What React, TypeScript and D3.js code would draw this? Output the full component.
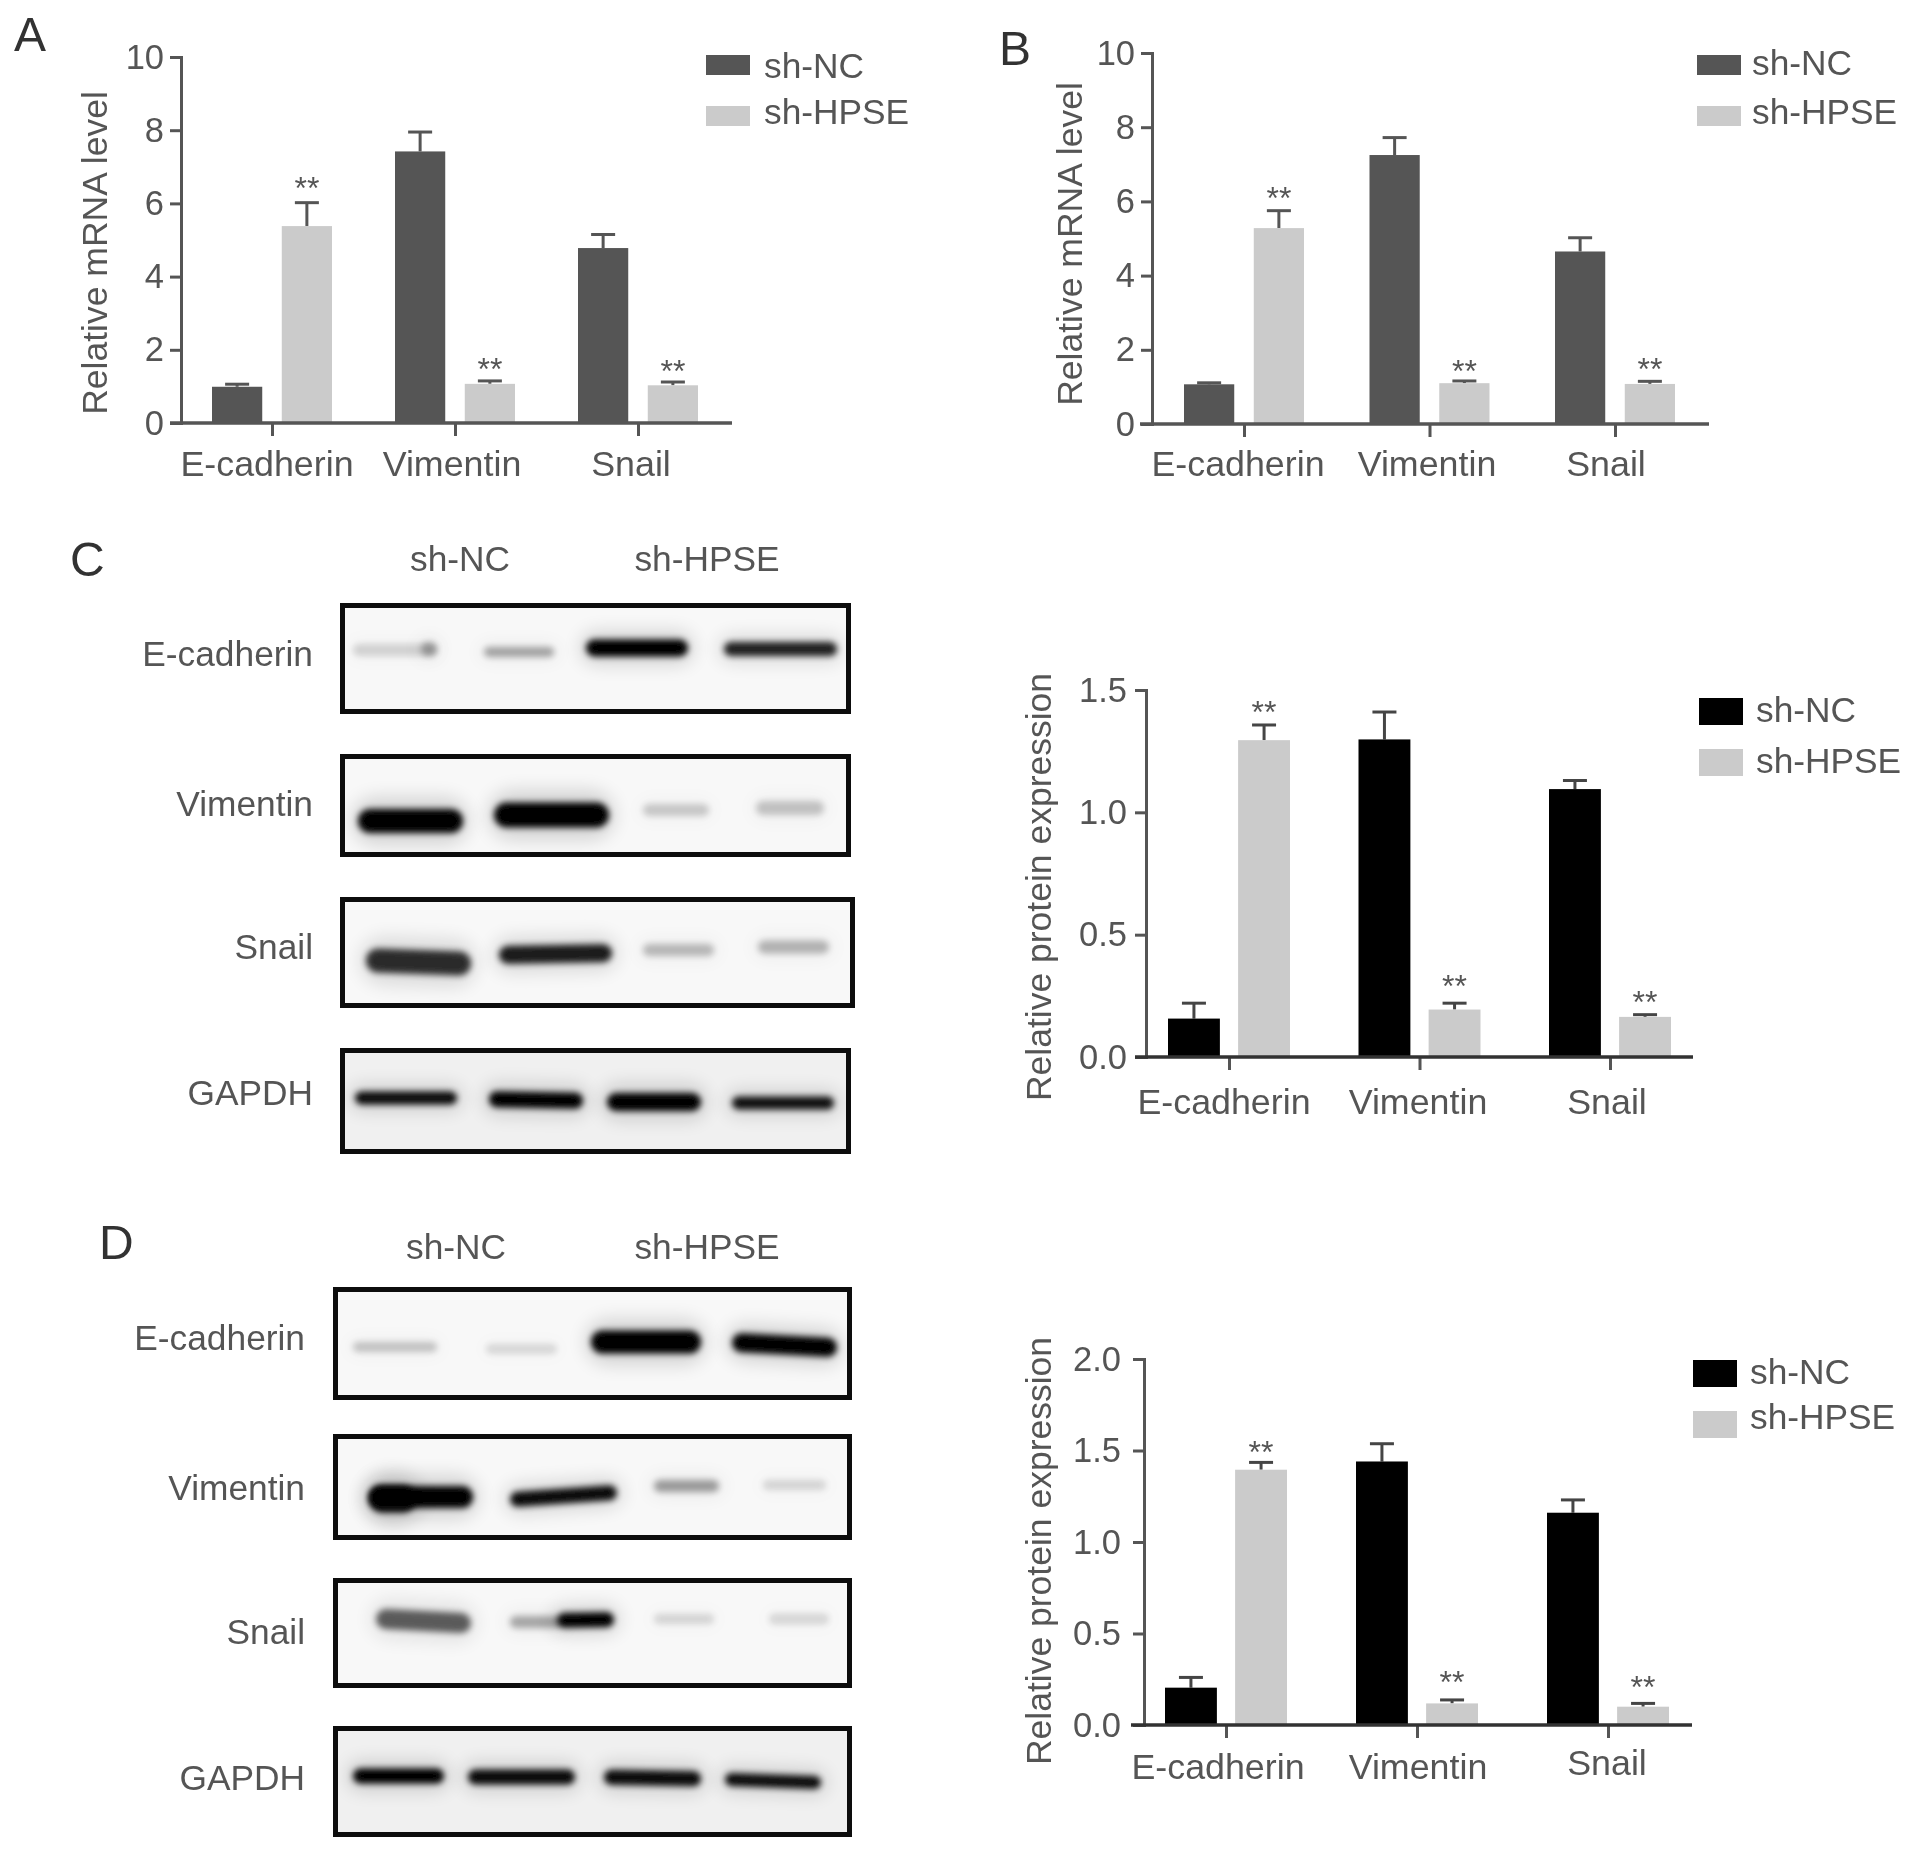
import React, { useEffect, useRef } from "react";
import * as d3 from "d3";

const categories = ["E-cadherin", "Vimentin", "Snail"];
const series = ["sh-NC", "sh-HPSE"];
const blotRows = ["E-cadherin", "Vimentin", "Snail", "GAPDH"];

// Panel A
const aNC = [0.99, 7.42, 4.78];
const aNCTop = [1.06, 7.95, 5.15];
const aHPSE = [5.38, 1.07, 1.03];
const aHPSETop = [6.02, 1.15, 1.12];
// Panel B
const bNC = [1.07, 7.25, 4.65];
const bNCTop = [1.11, 7.72, 5.02];
const bHPSE = [5.28, 1.1, 1.08];
const bHPSETop = [5.75, 1.16, 1.15];
// Panel C
const cNC = [0.157, 1.298, 1.095];
const cNCTop = [0.22, 1.41, 1.13];
const cHPSE = [1.295, 0.194, 0.164];
const cHPSETop = [1.357, 0.22, 0.173];
// Panel D
const dNC = [0.204, 1.44, 1.16];
const dNCTop = [0.26, 1.537, 1.23];
const dHPSE = [1.395, 0.118, 0.1];
const dHPSETop = [1.435, 0.137, 0.118];

const ticks10 = [0, 2, 4, 6, 8, 10];
const ticks15 = [0, 0.5, 1, 1.5];
const ticks20 = [0, 0.5, 1, 1.5, 2];

// band intensity read from the blots, lane by lane
const cBlotLevels = [
  [0.14, 0.32, 1, 0.85, 0.28],
  [1, 1, 0.18, 0.2],
  [0.8, 0.88, 0.24, 0.26],
  [0.95, 1, 1, 0.92],
];
const dBlotLevels = [
  [0.2, 0.12, 1, 1],
  [1, 0.95, 0.35, 0.13, 0.9],
  [0.6, 0.3, 0.13, 0.12, 1],
  [1, 0.95, 0.95, 0.95],
];

// layout
const chartLayouts = [
  { id: "A", x: 181, yTop: 57, y0: 423, xFrom: 170, xTo: 732, t0: 272, t1: 638, half: 60, pad: 0.28, fmt: "d", nc: "#555555", tickPad: 6,
    labelX: [267, 452, 631], labelY: [476, 476, 476], titleX: 95, titleY: 253, swX: 706, swW: 44, swY: [55, 106], swH: 20, legX: 764, legY: [78, 124], lift: [4, 0.5, 0.5] },
  { id: "B", x: 1152, yTop: 53, y0: 424, xFrom: 1140, xTo: 1709, t0: 1244, t1: 1615, half: 60, pad: 0.28, fmt: "d", nc: "#555555", tickPad: 6,
    labelX: [1238, 1427, 1606], labelY: [476, 476, 476], titleX: 1070, titleY: 244, swX: 1697, swW: 44, swY: [55, 106], swH: 20, legX: 1752, legY: [75, 124], lift: [1.7, -0.8, 1.7] },
  { id: "C", x: 1146, yTop: 690, y0: 1057, xFrom: 1135, xTo: 1693, t0: 1229, t1: 1610, half: 61, pad: 0.26, fmt: ".1f", nc: "#000000", tickPad: 8,
    labelX: [1224, 1418, 1607], labelY: [1114, 1114, 1114], titleX: 1039, titleY: 887, swX: 1699, swW: 44, swY: [698, 749], swH: 27, legX: 1756, legY: [722, 773], lift: [1.7, 6.5, 1.7] },
  { id: "D", x: 1144, yTop: 1359, y0: 1725, xFrom: 1131, xTo: 1692, t0: 1226, t1: 1608, half: 61, pad: 0.26, fmt: ".1f", nc: "#000000", tickPad: 12,
    labelX: [1218, 1418, 1607], labelY: [1779, 1779, 1775], titleX: 1039, titleY: 1551, swX: 1693, swW: 44, swY: [1360, 1411], swH: 27, legX: 1750, legY: [1384, 1429], lift: [-0.8, 6.5, 5.3] },
];

const chartData = [
  { max: 10, ticks: ticks10, title: "Relative mRNA level", nc: aNC, ncTop: aNCTop, h: aHPSE, hTop: aHPSETop },
  { max: 10, ticks: ticks10, title: "Relative mRNA level", nc: bNC, ncTop: bNCTop, h: bHPSE, hTop: bHPSETop },
  { max: 1.5, ticks: ticks15, title: "Relative protein expression", nc: cNC, ncTop: cNCTop, h: cHPSE, hTop: cHPSETop },
  { max: 2, ticks: ticks20, title: "Relative protein expression", nc: dNC, ncTop: dNCTop, h: dHPSE, hTop: dHPSETop },
];

const panelLetters = [
  { t: "A", x: 14, y: 51 }, { t: "B", x: 999, y: 65 }, { t: "C", x: 70, y: 576 }, { t: "D", x: 99, y: 1259 },
];

// x0, x1, y, h, tilt per lane
const cBlotBoxes = [[340, 603, 851, 714], [340, 754, 851, 857], [340, 897, 855, 1008], [340, 1048, 851, 1154]];
const dBlotBoxes = [[333, 1287, 852, 1400], [333, 1434, 852, 1540], [333, 1578, 852, 1688], [333, 1726, 852, 1837]];
const cBands = [
  [[353, 437, 650, 12, 0], [484, 554, 652, 10, 0], [586, 688, 648, 17, 0], [724, 837, 649, 14, 0], [421, 437, 649, 14, 0]],
  [[358, 463, 821, 24, 0], [494, 609, 815, 25, 0], [643, 709, 810, 12, 0], [756, 824, 808, 14, 0]],
  [[366, 471, 962, 24, 2], [499, 612, 954, 18, -1], [643, 714, 950, 12, 0], [758, 829, 947, 13, 0]],
  [[355, 457, 1098, 13, 0], [489, 583, 1100, 16, 1], [607, 701, 1102, 18, 0], [732, 834, 1103, 13, 0]],
];
const dBands = [
  [[353, 437, 1347, 10, 0], [486, 557, 1349, 10, 0], [591, 701, 1342, 23, 0], [732, 837, 1345, 19, 3]],
  [[369, 473, 1497, 22, 0], [510, 617, 1496, 15, -4], [654, 719, 1486, 12, 0], [763, 826, 1485, 10, 0], [369, 416, 1499, 27, 0]],
  [[376, 471, 1621, 20, 3], [510, 562, 1622, 12, 0], [654, 714, 1619, 10, 0], [769, 829, 1619, 11, 0], [557, 614, 1620, 15, -1]],
  [[353, 444, 1776, 15, 0], [468, 575, 1777, 15, 0], [604, 701, 1778, 15, 1], [725, 821, 1781, 13, 2]],
];
const blotLayouts = [
  { boxes: cBlotBoxes, bands: cBands, levels: cBlotLevels, labelX: 313, labelY: [666, 816, 959, 1105],
    headX: [460, 707], headY: 571 },
  { boxes: dBlotBoxes, bands: dBands, levels: dBlotLevels, labelX: 305, labelY: [1350, 1500, 1644, 1790],
    headX: [456, 707], headY: 1259 },
];

const FONT = '"Liberation Sans", Arial, sans-serif';
const INK = "#555555";
const LIGHT = "#cbcbcb";

export default function App() {
  const ref = useRef<SVGSVGElement | null>(null);

  useEffect(() => {
    const svg = d3.select(ref.current);
    svg.selectAll("*").remove();
    const defs = svg.append("defs");
    const addBlur = (id: string, s: number) =>
      defs.append("filter").attr("id", id).attr("x", "-50%").attr("y", "-150%").attr("width", "200%").attr("height", "400%")
        .append("feGaussianBlur").attr("stdDeviation", s);
    addBlur("soft", 0.6);
    addBlur("band", 3.2);
    addBlur("halo", 9);

    const root = svg.append("g").attr("filter", "url(#soft)").attr("font-family", FONT);

    panelLetters.forEach((p) => {
      root.append("text").attr("x", p.x).attr("y", p.y).attr("font-size", 48).attr("fill", "#333").text(p.t);
    });

    chartLayouts.forEach((L, i) => {
      const D = chartData[i];
      const g = root.append("g");
      const y = d3.scaleLinear().domain([0, D.max]).range([L.y0, L.yTop]);
      const x0 = d3.scalePoint<string>().domain(categories).range([L.t0, L.t1]);
      const x1 = d3.scaleBand<string>().domain(series).range([-L.half, L.half]).paddingInner(L.pad);

      const rows = [
        { s: series[0], v: D.nc, top: D.ncTop, fill: L.nc, stars: false },
        { s: series[1], v: D.h, top: D.hTop, fill: LIGHT, stars: true },
      ];
      rows.forEach((r) => {
        const bw = x1.bandwidth();
        categories.forEach((c, k) => {
          const bx = (x0(c) as number) + (x1(r.s) as number);
          const cx = bx + bw / 2;
          const eb = g.append("g").attr("stroke", i < 2 ? INK : "#444").attr("stroke-width", 3);
          eb.append("line").attr("x1", cx).attr("x2", cx).attr("y1", y(r.v[k])).attr("y2", y(r.top[k]));
          eb.append("line").attr("x1", cx - 12).attr("x2", cx + 12).attr("y1", y(r.top[k])).attr("y2", y(r.top[k]));
          g.append("rect").attr("x", bx).attr("width", bw).attr("y", y(r.v[k])).attr("height", L.y0 - y(r.v[k])).attr("fill", r.fill);
          if (r.stars) {
            g.append("text").attr("x", cx).attr("y", y(r.top[k]) - L.lift[k]).attr("text-anchor", "middle")
              .attr("font-size", 32).attr("fill", INK).text("**");
          }
        });
      });

      // axes
      const yAxis = d3.axisLeft(y).tickValues(D.ticks).tickSize(11).tickPadding(L.tickPad).tickFormat(d3.format(L.fmt) as any);
      const ya = g.append("g").attr("transform", `translate(${L.x},0)`).call(yAxis as any);
      ya.selectAll("text").attr("font-size", 34.5).attr("font-family", FONT).attr("fill", INK);
      ya.selectAll("line").attr("stroke", INK).attr("stroke-width", 3);
      ya.select(".domain").attr("stroke", INK).attr("stroke-width", 3);
      const xAxis = d3.axisBottom(x0).tickSize(13).tickFormat(() => "");
      const xa = g.append("g").attr("transform", `translate(0,${L.y0})`).call(xAxis as any);
      xa.select(".domain").remove();
      xa.selectAll("line").attr("stroke", INK).attr("stroke-width", 3);
      g.append("line").attr("x1", L.xFrom).attr("x2", L.xTo).attr("y1", L.y0).attr("y2", L.y0)
        .attr("stroke", i < 2 ? INK : "#333").attr("stroke-width", 3.5);

      categories.forEach((c, k) => {
        g.append("text").attr("x", L.labelX[k]).attr("y", L.labelY[k]).attr("text-anchor", "middle")
          .attr("font-size", 35.8).attr("fill", INK).text(c);
      });
      g.append("text").attr("transform", `translate(${L.titleX},${L.titleY}) rotate(-90)`).attr("text-anchor", "middle")
        .attr("dominant-baseline", "central").attr("font-size", 35.5).attr("fill", INK).text(D.title);

      series.forEach((s, k) => {
        g.append("rect").attr("x", L.swX).attr("y", L.swY[k]).attr("width", L.swW).attr("height", L.swH)
          .attr("fill", k === 0 ? L.nc : LIGHT);
        g.append("text").attr("x", L.legX).attr("y", L.legY[k]).attr("font-size", 35.3).attr("fill", INK).text(s);
      });
    });

    blotLayouts.forEach((B, bi) => {
      const g = root.append("g");
      series.forEach((s, k) => {
        g.append("text").attr("x", B.headX[k]).attr("y", B.headY).attr("text-anchor", "middle")
          .attr("font-size", 35.3).attr("fill", INK).text(s);
      });
      blotRows.forEach((name, r) => {
        g.append("text").attr("x", B.labelX).attr("y", B.labelY[r]).attr("text-anchor", "end")
          .attr("font-size", 35.3).attr("fill", INK).text(name);
        const [x0, y0, x1, y1] = B.boxes[r];
        const clipId = `clip-${bi}-${r}`;
        defs.append("clipPath").attr("id", clipId).append("rect").attr("x", x0).attr("y", y0).attr("width", x1 - x0).attr("height", y1 - y0);
        const cell = g.append("g").attr("clip-path", `url(#${clipId})`);
        cell.append("rect").attr("x", x0).attr("y", y0).attr("width", x1 - x0).attr("height", y1 - y0).attr("fill", r === 3 ? "#f0f0f0" : "#f8f8f8");
        B.bands[r].forEach((b, lane) => {
          const [bx0, bx1, by, bh, tilt] = b;
          const level = B.levels[r][lane];
          const mx = (bx0 + bx1) / 2;
          const t = `rotate(${tilt},${mx},${by})`;
          cell.append("rect").attr("x", bx0 - 6).attr("width", bx1 - bx0 + 12).attr("y", by - bh).attr("height", bh * 2)
            .attr("rx", bh).attr("fill", "#000").attr("opacity", level * 0.14).attr("filter", "url(#halo)").attr("transform", t);
          cell.append("rect").attr("x", bx0).attr("width", bx1 - bx0).attr("y", by - bh / 2).attr("height", bh)
            .attr("rx", bh / 2).attr("fill", "#000").attr("opacity", level).attr("filter", "url(#band)").attr("transform", t);
        });
        g.append("rect").attr("x", x0 + 2.5).attr("y", y0 + 2.5).attr("width", x1 - x0 - 5).attr("height", y1 - y0 - 5)
          .attr("fill", "none").attr("stroke", "#111").attr("stroke-width", 5);
      });
    });
  }, []);

  return (
    <svg
      ref={ref}
      width={1913}
      height={1853}
      viewBox="0 0 1913 1853"
      style={{ position: "absolute", left: 0, top: 0, background: "#fff" }}
    />
  );
}
